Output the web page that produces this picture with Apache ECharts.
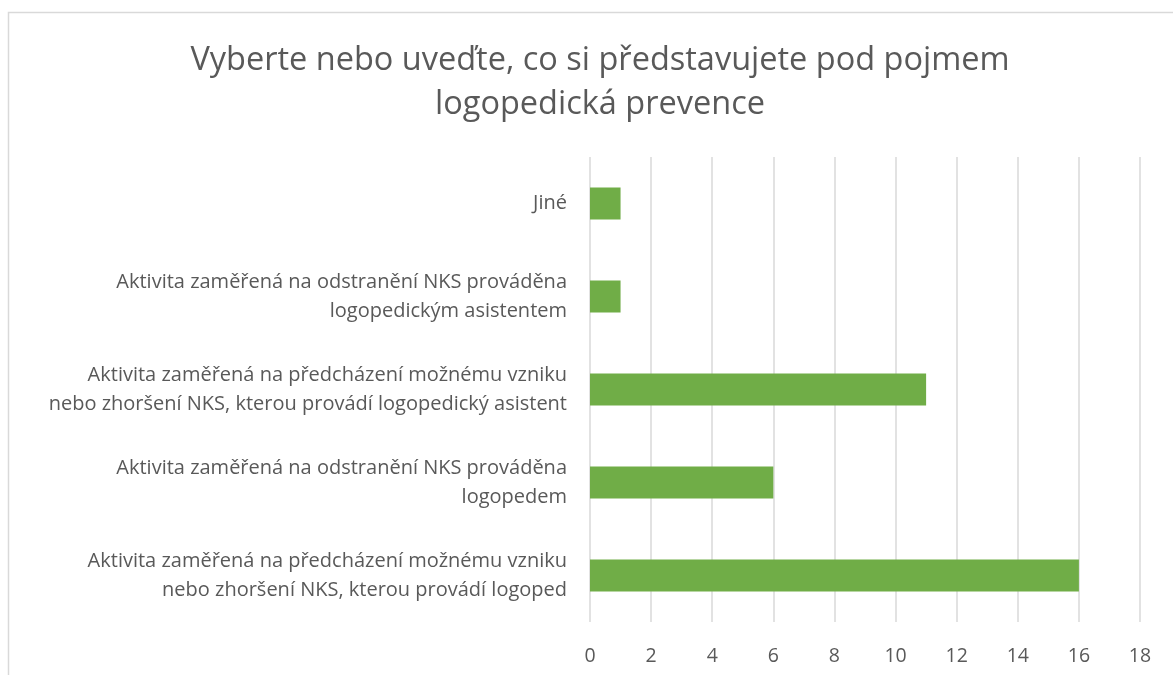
<!DOCTYPE html>
<html>
<head>
<meta charset="utf-8">
<script src="https://cdn.jsdelivr.net/npm/echarts@6/dist/echarts.min.js"></script>
<style>
html, body { margin: 0; padding: 0; background: #fff; }
#myChart { width: 1173px; height: 675px; }
</style>
</head>
<body>
<div id="myChart"></div>
<script>
// kategorie shora dolů
const categories = [
  'Jiné',
  'Aktivita zaměřená na odstranění NKS prováděna\nlogopedickým asistentem',
  'Aktivita zaměřená na předcházení možnému vzniku\nnebo zhoršení NKS, kterou provádí logopedický asistent',
  'Aktivita zaměřená na odstranění NKS prováděna\nlogopedem',
  'Aktivita zaměřená na předcházení možnému vzniku\nnebo zhoršení NKS, kterou provádí logoped'
]
const values = [1, 1, 11, 6, 16]
const xTicks = { min: 0, max: 18, interval: 2 }

const font = '"Open Sans", "Noto Sans", sans-serif'
let myChart = echarts.init(document.getElementById('myChart'))
myChart.setOption({
  animation: false,
  title: {
    text: 'Vyberte nebo uveďte, co si představujete pod pojmem\nlogopedická prevence',
    left: 595,
    top: 34,
    textAlign: 'center',
    textStyle: {
      fontFamily: font,
      fontSize: 32.5,
      fontWeight: 'normal',
      color: '#595959',
      lineHeight: 44
    }
  },
  graphic: [
    {
      type: 'rect',
      shape: { x: 8.5, y: 12.5, width: 1200, height: 700 },
      style: { fill: 'none', stroke: '#d9d9d9', lineWidth: 1.5 },
      silent: true
    }
  ],
  grid: {
    left: 590,
    right: 33,
    top: 157,
    bottom: 53
  },
  xAxis: {
    type: 'value',
    min: xTicks.min,
    max: xTicks.max,
    interval: xTicks.interval,
    axisLine: { show: false },
    axisTick: { show: false },
    splitLine: { lineStyle: { color: '#d9d9d9', width: 1.5 } },
    axisLabel: {
      fontFamily: font,
      fontSize: 19.5,
      color: '#595959',
      margin: 24
    }
  },
  yAxis: {
    type: 'category',
    inverse: true,
    data: categories,
    axisLine: { show: false },
    axisTick: { show: false },
    axisLabel: {
      fontFamily: font,
      fontSize: 20,
      color: '#595959',
      margin: 23,
      lineHeight: 29,
      align: 'right'
    }
  },
  series: [
    {
      type: 'bar',
      data: values,
      barWidth: 32,
      itemStyle: { color: '#70ad47' }
    }
  ]
})
</script>
</body>
</html>
